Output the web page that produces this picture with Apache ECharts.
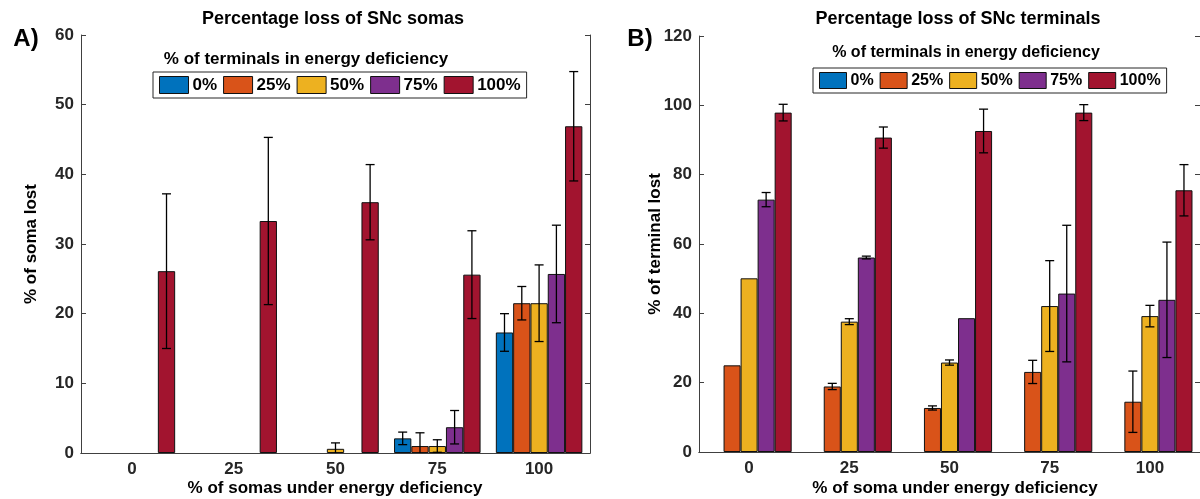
<!DOCTYPE html>
<html><head><meta charset="utf-8">
<script src="https://cdn.jsdelivr.net/npm/echarts@6/dist/echarts.min.js"></script>
<style>html,body{margin:0;padding:0;background:#fff}#c{width:1200px;height:499px}</style>
</head><body><div id="c"></div>
<script>
// ---- Data ----
const categories = ['0', '25', '50', '75', '100'];
const seriesNames = ['0%', '25%', '50%', '75%', '100%'];
const colors = ['#0072BD', '#D95319', '#EDB120', '#7E2F8E', '#A2142F'];

// Panel A: % of soma lost
const somaT0 = [0, 0, 0, 2.1, 17.3];
const somaT0Err = [0, 0, 0, 0.9, 2.7];
const somaT25 = [0, 0, 0, 1.0, 21.5];
const somaT25Err = [0, 0, 0, 1.9, 2.4];
const somaT50 = [0, 0, 0.6, 1.0, 21.5];
const somaT50Err = [0, 0, 0.85, 0.9, 5.5];
const somaT75 = [0, 0, 0, 3.7, 25.7];
const somaT75Err = [0, 0, 0, 2.4, 7.0];
const somaT100 = [26.1, 33.3, 36.0, 25.6, 46.9];
const somaT100Err = [11.1, 12.0, 5.4, 6.3, 7.85];

// Panel B: % of terminal lost
const termT0 = [0, 0, 0, 0, 0];
const termT0Err = [0, 0, 0, 0, 0];
const termT25 = [25.0, 18.9, 12.7, 23.1, 14.5];
const termT25Err = [0, 0.9, 0.6, 3.35, 8.85];
const termT50 = [50.1, 37.6, 25.8, 42.1, 39.2];
const termT50Err = [0, 0.85, 0.75, 13.1, 3.1];
const termT75 = [72.8, 56.1, 38.6, 45.7, 43.9];
const termT75Err = [2.05, 0.4, 0, 19.7, 16.65];
const termT100 = [97.9, 90.7, 92.6, 97.9, 75.5];
const termT100Err = [2.4, 3.05, 6.3, 2.3, 7.4];

const somaTicksMax = 60, somaTicksStep = 10;
const termTicksMax = 120, termTicksStep = 20;

// ---- Build ----
const FONT = 'Liberation Sans';
const axisColor = '#404040';
const textColor = '#262626';
const somaVals = [somaT0, somaT25, somaT50, somaT75, somaT100];
const somaErrs = [somaT0Err, somaT25Err, somaT50Err, somaT75Err, somaT100Err];
const termVals = [termT0, termT25, termT50, termT75, termT100];
const termErrs = [termT0Err, termT25Err, termT50Err, termT75Err, termT100Err];
const GAP = 0.15;

function errRender(params, api) {
  const ci = api.value(0), v = api.value(1), e = api.value(2), k = api.value(3);
  if (!e) return null;
  const band = api.size([1, 0])[0];
  const bw = band * (1 - GAP) / 5;
  const cx = api.coord([ci, v])[0] - band * (1 - GAP) / 2 + (k + 0.5) * bw;
  const yHi = api.coord([ci, v + e])[1];
  const yLo = api.coord([ci, v - e])[1];
  const hw = 4.5;
  const st = { stroke: '#000', lineWidth: 1.3 };
  return {
    type: 'group',
    children: [
      { type: 'line', shape: { x1: cx, y1: yHi, x2: cx, y2: yLo }, style: st },
      { type: 'line', shape: { x1: cx - hw, y1: yHi, x2: cx + hw, y2: yHi }, style: st },
      { type: 'line', shape: { x1: cx - hw, y1: yLo, x2: cx + hw, y2: yLo }, style: st }
    ]
  };
}

function axesFor(gi, max, step) {
  const common = { gridIndex: gi };
  return {
    x: [
      Object.assign({}, common, {
        type: 'category', data: categories, position: 'bottom', boundaryGap: true,
        axisLine: { lineStyle: { color: axisColor, width: 1 } },
        axisTick: { inside: true, length: 5, alignWithLabel: true, lineStyle: { color: axisColor } },
        axisLabel: { color: textColor, fontFamily: FONT, fontWeight: 'bold', fontSize: 17, margin: 8 },
        splitLine: { show: false }, z: 10
      }),
      Object.assign({}, common, {
        type: 'category', data: categories, position: 'top', boundaryGap: true,
        axisLine: { lineStyle: { color: axisColor, width: 1 } },
        axisTick: { inside: true, length: 5, alignWithLabel: true, lineStyle: { color: axisColor } },
        axisLabel: { show: false }, splitLine: { show: false }
      })
    ],
    y: [
      Object.assign({}, common, {
        type: 'value', min: 0, max: max, interval: step, position: 'left',
        axisLine: { show: true, lineStyle: { color: axisColor, width: 1 } },
        axisTick: { show: true, inside: true, length: 5, lineStyle: { color: axisColor } },
        axisLabel: { color: textColor, fontFamily: FONT, fontWeight: 'bold', fontSize: 17, margin: 7 },
        splitLine: { show: false }
      }),
      Object.assign({}, common, {
        type: 'value', min: 0, max: max, interval: step, position: 'right',
        axisLine: { show: true, lineStyle: { color: axisColor, width: 1 } },
        axisTick: { show: true, inside: true, length: 5, lineStyle: { color: axisColor } },
        axisLabel: { show: false }, splitLine: { show: false }
      })
    ]
  };
}

const axA = axesFor(0, somaTicksMax, somaTicksStep);
const axB = axesFor(1, termTicksMax, termTicksStep);

const series = [];
function addPanel(vals, errs, xi, yi) {
  for (let k = 0; k < 5; k++) {
    series.push({
      type: 'bar', name: seriesNames[k], xAxisIndex: xi, yAxisIndex: yi,
      data: vals[k].map(v => (v === 0 ? '-' : v)), barGap: '0%', barCategoryGap: (GAP * 100) + '%',
      itemStyle: { color: colors[k], borderColor: '#111', borderWidth: 1 },
      emphasis: { disabled: true }, animation: false
    });
  }
  for (let k = 0; k < 5; k++) {
    series.push({
      type: 'custom', xAxisIndex: xi, yAxisIndex: yi, clip: true, z: 5,
      renderItem: errRender, animation: false, silent: true,
      data: vals[k].map((v, i) => [i, v, errs[k][i], k])
    });
  }
}
addPanel(somaVals, somaErrs, 0, 0);
addPanel(termVals, termErrs, 2, 2);

function legendAt(left, top, fs, iw, ih) {
  return {
    data: seriesNames, left: left, top: top, orient: 'horizontal',
    backgroundColor: '#fff', borderColor: '#262626', borderWidth: 1,
    padding: [4, 6, 4, 6], itemGap: 6, itemWidth: iw, itemHeight: ih, icon: 'rect',
    itemStyle: { borderColor: '#111', borderWidth: 1 },
    textStyle: { color: '#000', fontFamily: FONT, fontWeight: 'bold', fontSize: fs, padding: [0, 0, 0, -1] },
    selectedMode: false
  };
}

function txt(x, y, text, size, rot, extra) {
  return Object.assign({
    type: 'text', x: x, y: y, rotation: rot || 0,
    style: { text: text, fill: '#000', font: 'bold ' + size + 'px "' + FONT + '"', align: 'center', verticalAlign: 'middle' }
  }, extra || {});
}

const option = {
  backgroundColor: '#fff',
  animation: false,
  grid: [
    { left: 81, top: 35, width: 509, height: 418 },
    { left: 699, top: 36, width: 505, height: 416 }
  ],
  xAxis: axA.x.concat(axB.x),
  yAxis: axA.y.concat(axB.y),
  legend: [legendAt(153, 72, 17, 29, 17), legendAt(813, 68, 16, 27, 16)],
  series: series,
  graphic: [
    txt(333, 19, 'Percentage loss of SNc somas', 18),
    txt(958, 19, 'Percentage loss of SNc terminals', 18),
    txt(26, 39, 'A)', 24),
    txt(640, 39, 'B)', 24),
    txt(306, 59, '% of terminals in energy deficiency', 17),
    txt(966, 53, '% of terminals in energy deficiency', 16),
    txt(31, 244, '% of soma lost', 17, Math.PI / 2),
    txt(655, 244, '% of terminal lost', 17, Math.PI / 2),
    txt(335, 488, '% of somas under energy deficiency', 17),
    txt(955, 488, '% of soma under energy deficiency', 17)
  ]
};

const chart = echarts.init(document.getElementById('c'), null, { renderer: 'canvas' });
chart.setOption(option);
</script>
</body></html>
